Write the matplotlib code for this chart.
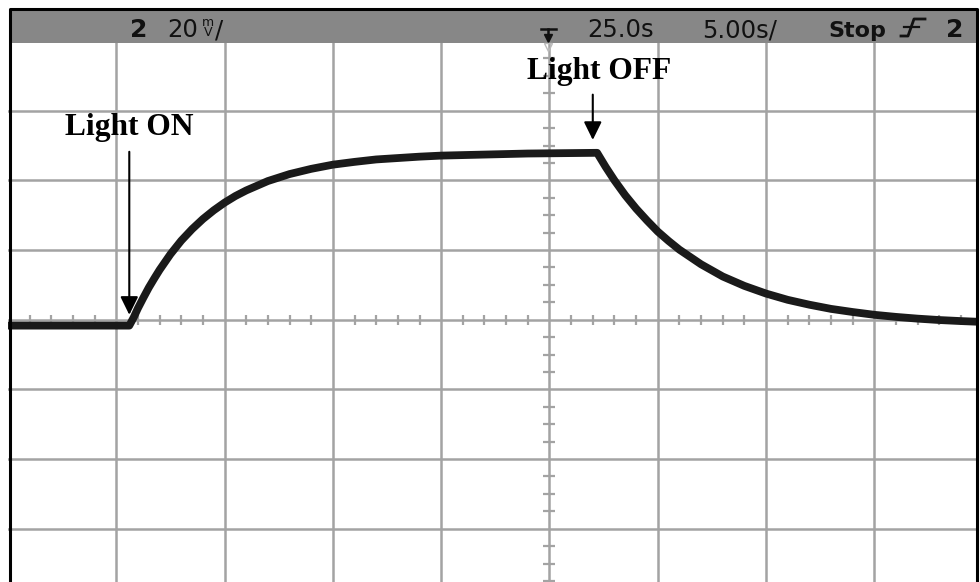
import matplotlib.pyplot as plt
import numpy as np
from matplotlib.lines import Line2D
from matplotlib.patches import Rectangle
from matplotlib.transforms import Affine2D

# scope settings (5 s/div, 20 mV/div), trace read in s and mV
time_s = [0, 5.6, 5.8, 6.0, 6.25, 6.5, 6.75, 7.0, 7.5, 8.0, 8.5, 9.0, 9.5,
          10, 10.5, 11, 12, 13, 14, 15, 16, 17, 18, 19, 20, 22, 24, 27.2,
          27.6, 28, 28.5, 29, 29.5, 30, 30.5, 31, 32, 33, 34, 35, 36, 37,
          38, 39, 40, 41, 42, 43, 44, 44.8]
trace_mv = [-1.7, -1.7, 0.6, 3.3, 6.3, 9.2, 11.8, 14.3, 18.8, 22.7, 26.0,
            28.9, 31.4, 33.6, 35.5, 37.1, 39.8, 41.8, 43.3, 44.5, 45.3, 46.0,
            46.4, 46.8, 47.1, 47.4, 47.7, 47.9, 43.8, 40.0, 35.7, 31.9, 28.5,
            25.3, 22.6, 20.1, 15.9, 12.4, 9.7, 7.5, 5.7, 4.3, 3.1, 2.2, 1.4,
            0.8, 0.3, -0.1, -0.4, -0.6]

light_on_s = 5.6
light_off_s = 27.0

grey = '#a3a3a3'

fig = plt.figure(figsize=(9.8, 5.82), dpi=100)
ax = fig.add_axes([8 / 980, 0, 969 / 980, 541 / 582])
ax.set_xlim(0, 44.74)
ax.set_ylim(-75.3, 80)
ax.axis('off')

# graticule
for x in np.arange(5, 45, 5):
    ax.axvline(x, color=grey, lw=1.8, zorder=1)
for y in np.arange(-60, 80, 20):
    ax.axhline(y, color=grey, lw=1.8, zorder=1)

# minor ticks along the centre lines
tx = np.arange(1, 45, 1)
tx = tx[tx % 5 != 0]
ax.plot(tx, np.zeros_like(tx), ls='none', marker='|', ms=7, mew=1.6,
        color=grey, zorder=1)
ty = np.arange(-75, 80, 5)
ty = ty[ty % 20 != 0]
ax.plot(np.full_like(ty, 25), ty, ls='none', marker='_', ms=9, mew=1.6,
        color=grey, zorder=1)

# trace
ax.plot(time_s, trace_mv, color='#1a1a1a', lw=5.6, solid_joinstyle='round',
        zorder=3)

# annotations
arrow = dict(arrowstyle='-|>,head_length=0.55,head_width=0.27',
             color='black', lw=1.5, shrinkA=0, shrinkB=0, mutation_scale=20)
ax.annotate('', xy=(light_on_s, 1.4), xytext=(light_on_s, 48.2),
            arrowprops=arrow, zorder=4)
ax.text(5.6, 53.1, 'Light ON', ha='center', va='baseline',
        family='Liberation Serif', weight='bold', fontsize=22.7, zorder=4)
ax.annotate('', xy=(light_off_s, 51.6), xytext=(light_off_s, 64.6),
            arrowprops=arrow, zorder=4)
ax.text(27.3, 69.2, 'Light OFF', ha='center', va='baseline',
        family='Liberation Serif', weight='bold', fontsize=22.7, zorder=4)

# status bar and frame, in pixel coordinates from the top-left corner
px = Affine2D().scale(1 / 980, -1 / 582).translate(0, 1) + fig.transFigure

fig.add_artist(Rectangle((9, 9), 968, 34, transform=px, facecolor='#878787',
                         edgecolor='none', zorder=5))
fig.add_artist(Line2D([10, 10, 977, 977], [582, 9, 9, 582], transform=px,
                      color='black', lw=2.2, zorder=6))

txt = dict(transform=px, va='baseline', ha='left', color='#111111',
           family='DejaVu Sans', zorder=7)
fig.text(130, 37, '2', fontsize=18, weight='bold', **txt)
fig.text(167, 37, '20', fontsize=17.5, **txt)
fig.text(208, 27.5, 'm\nV', transform=px, ha='center', va='center',
         ma='center', fontsize=9, linespacing=0.8, color='#111111',
         family='DejaVu Sans', zorder=7)
fig.text(215, 37, '/', fontsize=17.5, **txt)
fig.text(587, 37, '25.0s', fontsize=17.5, **txt)
fig.text(702, 37, '5.00s/', fontsize=17.5, **txt)
fig.text(828, 37, 'Stop', fontsize=16, weight='bold', **txt)
fig.text(946, 37, '2', fontsize=18, weight='bold', **txt)

# trigger slope icon
fig.add_artist(Line2D([925, 914, 908, 901], [19, 19, 36, 36], transform=px,
                      color='#111111', lw=2.0, zorder=7))
fig.add_artist(Line2D([904, 919], [27, 27], transform=px,
                      color='#111111', lw=1.6, zorder=7))

# trigger position marker
fig.add_artist(Line2D([541, 556], [29, 29], transform=px,
                      color='#111111', lw=1.8, zorder=7))
fig.add_artist(Line2D([548, 548], [29, 38], transform=px,
                      color='#111111', lw=1.8, zorder=7))
fig.add_artist(Line2D([548], [38], transform=px, marker='v', ms=6,
                      color='#111111', ls='none', zorder=7))
fig.add_artist(Line2D([548], [47], transform=px, marker='v', ms=6, mfc='none',
                      mec='#bbbbbb', ls='none', zorder=7))

fig.savefig('out.png', dpi=100)
